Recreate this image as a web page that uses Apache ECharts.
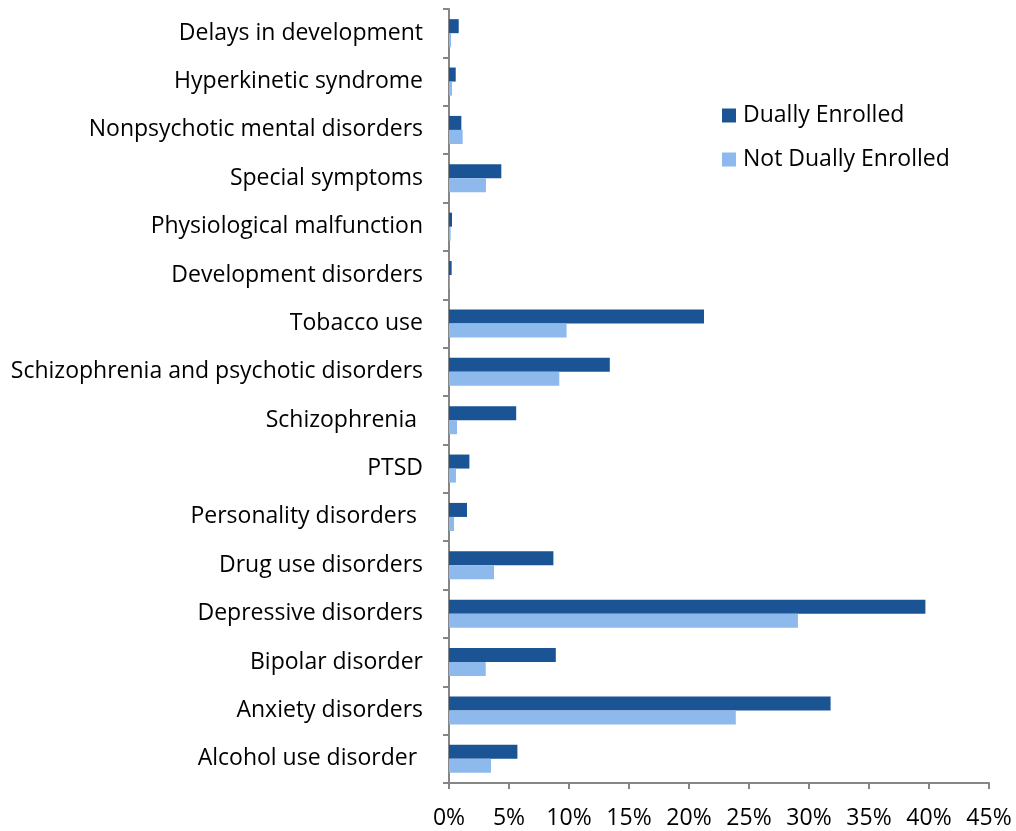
<!DOCTYPE html>
<html>
<head>
<meta charset="utf-8">
<script src="https://cdn.jsdelivr.net/npm/echarts@6/dist/echarts.min.js"></script>
<style>
  html, body { margin: 0; padding: 0; background: #fff; }
  #chart { width: 1016px; height: 831px; }
</style>
</head>
<body>
<div id="chart"></div>
<script>
// categories bottom to top, as on the y axis
var categories = [
    'Alcohol use disorder ', 'Anxiety disorders', 'Bipolar disorder', 'Depressive disorders',
    'Drug use disorders', 'Personality disorders ', 'PTSD', 'Schizophrenia ',
    'Schizophrenia and psychotic disorders', 'Tobacco use', 'Development disorders',
    'Physiological malfunction', 'Special symptoms', 'Nonpsychotic mental disorders',
    'Hyperkinetic syndrome', 'Delays in development'
];
var duallyEnrolled = [5.7, 31.8, 8.9, 39.7, 8.7, 1.5, 1.7, 5.6, 13.4, 21.25, 0.22, 0.25, 4.36, 1.03, 0.56, 0.81];
var notDuallyEnrolled = [3.5, 23.9, 3.06, 29.08, 3.75, 0.42, 0.58, 0.67, 9.19, 9.8, 0.05, 0.14, 3.08, 1.14, 0.25, 0.17];
var seriesNames = ['Dually Enrolled', 'Not Dually Enrolled'];

var font = 'Open Sans';
var axisColor = '#868686';

var chart = echarts.init(document.getElementById('chart'));
var option = {
    backgroundColor: '#fff',
    animation: false,
    color: ['#1a5494', '#8db9ec'],
    legend: {
        orient: 'vertical',
        left: 722,
        top: 104,
        padding: 0,
        itemWidth: 14,
        itemHeight: 14,
        itemGap: 21,
        icon: 'rect',
        data: seriesNames,
        textStyle: { fontFamily: font, fontSize: 23, color: '#000', padding: [0, 0, 0, 2] }
    },
    grid: { left: 449, right: 27, top: 9, bottom: 48, containLabel: false },
    xAxis: {
        type: 'value',
        min: 0,
        max: 45,
        interval: 5,
        splitLine: { show: false },
        axisLine: { show: true, lineStyle: { color: axisColor, width: 2 } },
        axisTick: { show: true, length: 6, lineStyle: { color: axisColor, width: 2 } },
        axisLabel: {
            formatter: '{value}%',
            fontFamily: font, fontSize: 23, color: '#000', margin: 24
        }
    },
    yAxis: {
        type: 'category',
        data: categories,
        axisLine: { show: true, lineStyle: { color: axisColor, width: 2 } },
        axisTick: { show: true, length: 6, lineStyle: { color: axisColor, width: 2 } },
        axisLabel: { fontFamily: font, fontSize: 23, color: '#000', margin: 26 }
    },
    series: [
        {
            name: seriesNames[0], type: 'bar', data: duallyEnrolled,
            barGap: '0%', barCategoryGap: '42%'
        },
        {
            name: seriesNames[1], type: 'bar', data: notDuallyEnrolled,
            barGap: '0%', barCategoryGap: '42%'
        }
    ]
};
chart.setOption(option);
</script>
</body>
</html>
